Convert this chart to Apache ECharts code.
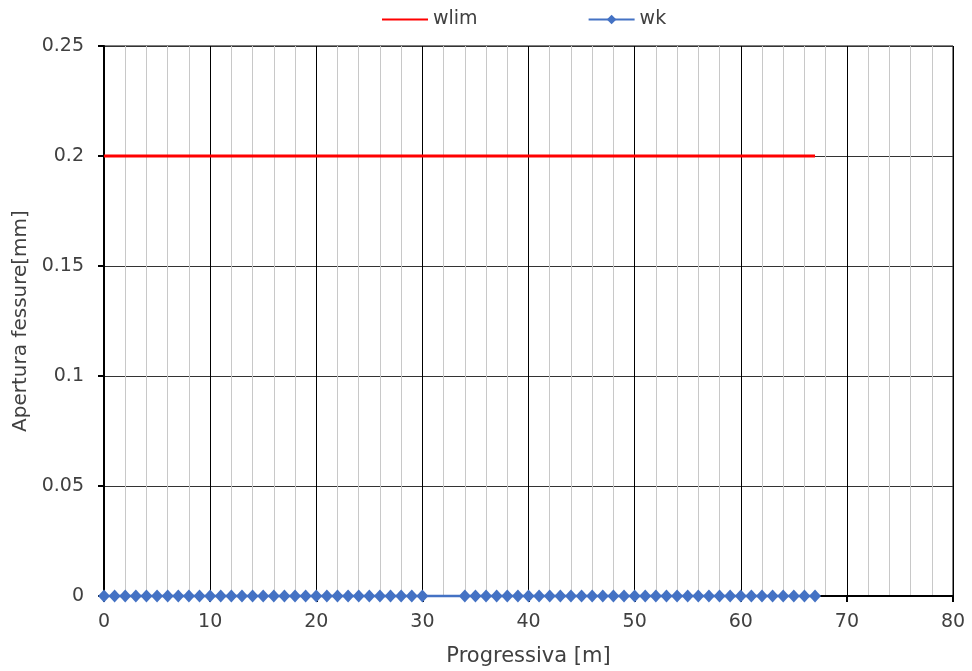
<!DOCTYPE html>
<html>
<head>
<meta charset="utf-8">
<style>
  html, body { margin: 0; padding: 0; background: #fff; }
  #chart { width: 972px; height: 671px; }
</style>
<script src="https://cdn.jsdelivr.net/npm/echarts@6/dist/echarts.min.js"></script>
</head>
<body>
<div id="chart"></div>
<script>
// Limit crack width (wlim) along the progressive distance
const wlimX = [0, 67];
const wlimY = [0.2, 0.2];

// Computed crack width (wk) at each section
const wkX = [0, 1, 2, 3, 4, 5, 6, 7, 8, 9, 10, 11, 12, 13, 14, 15, 16, 17, 18, 19, 20,
             21, 22, 23, 24, 25, 26, 27, 28, 29, 30,
             34, 35, 36, 37, 38, 39, 40, 41, 42, 43, 44, 45, 46, 47, 48, 49, 50,
             51, 52, 53, 54, 55, 56, 57, 58, 59, 60, 61, 62, 63, 64, 65, 66, 67];
const wkY = [0, 0, 0, 0, 0, 0, 0, 0, 0, 0, 0, 0, 0, 0, 0, 0, 0, 0, 0, 0, 0,
             0, 0, 0, 0, 0, 0, 0, 0, 0, 0,
             0, 0, 0, 0, 0, 0, 0, 0, 0, 0, 0, 0, 0, 0, 0, 0, 0,
             0, 0, 0, 0, 0, 0, 0, 0, 0, 0, 0, 0, 0, 0, 0, 0, 0];

const seriesNames = ['wlim', 'wk'];
const axisTitles = { x: 'Progressiva [m]', y: 'Apertura fessure[mm]' };

const pairs = (xs, ys) => xs.map((x, i) => [x, ys[i]]);

const FONT = '"DejaVu Sans", sans-serif';
const TXT = '#404040';

const chart = echarts.init(document.getElementById('chart'), null, { renderer: 'canvas' });
chart.setOption({
  animation: false,
  backgroundColor: '#ffffff',
  textStyle: { fontFamily: FONT },
  legend: {
    top: 5,
    left: 377,
    itemGap: 110,
    itemWidth: 46,
    itemHeight: 12,
    textStyle: { fontSize: 19, color: TXT, fontFamily: FONT },
    data: [
      { name: seriesNames[0], icon: 'path://M0,5 L46,5 L46,7 L0,7 Z' },
      { name: seriesNames[1] }
    ]
  },
  grid: { left: 104, right: 19, top: 46, bottom: 75, containLabel: false,
          outerBoundsMode: 'none',
          show: true, borderColor: '#000', borderWidth: 1 },
  xAxis: {
    type: 'value',
    min: 0, max: 80, interval: 10,
    name: axisTitles.x,
    nameLocation: 'middle',
    nameGap: 50,
    nameTextStyle: { fontSize: 21, color: TXT, fontFamily: FONT },
    axisLine: { show: true, onZero: false, lineStyle: { color: '#000', width: 2 } },
    axisTick: { show: true, inside: false, length: 6, lineStyle: { color: '#000', width: 2 } },
    axisLabel: { fontSize: 19, color: TXT, margin: 17, fontFamily: FONT },
    splitLine: { show: true, lineStyle: { color: '#000', width: 1 } },
    minorTick: { show: false, splitNumber: 5 },
    minorSplitLine: { show: true, lineStyle: { color: '#c8c8c8', width: 1 } }
  },
  yAxis: {
    type: 'value',
    min: 0, max: 0.25, interval: 0.05,
    name: axisTitles.y,
    nameLocation: 'middle',
    nameGap: 72,
    nameTextStyle: { fontSize: 20, color: TXT, fontFamily: FONT },
    axisLine: { show: true, lineStyle: { color: '#000', width: 2 } },
    axisTick: { show: true, inside: false, length: 6, lineStyle: { color: '#000', width: 2 } },
    axisLabel: { fontSize: 19, color: TXT, margin: 20, fontFamily: FONT },
    splitLine: { show: true, lineStyle: { color: '#333', width: 1 } }
  },
  series: [
    {
      name: seriesNames[0],
      type: 'line',
      data: pairs(wlimX, wlimY),
      showSymbol: false,
      symbol: 'none',
      color: '#ff0000',
      lineStyle: { color: '#ff0000', width: 3 },
      z: 3
    },
    {
      name: seriesNames[1],
      type: 'line',
      data: pairs(wkX, wkY),
      symbol: 'diamond',
      symbolSize: [12, 13],
      showAllSymbol: true,
      clip: false,
      color: '#4472c4',
      itemStyle: { color: '#4472c4' },
      lineStyle: { color: '#4472c4', width: 2.5 },
      z: 4
    }
  ]
});
</script>
</body>
</html>
